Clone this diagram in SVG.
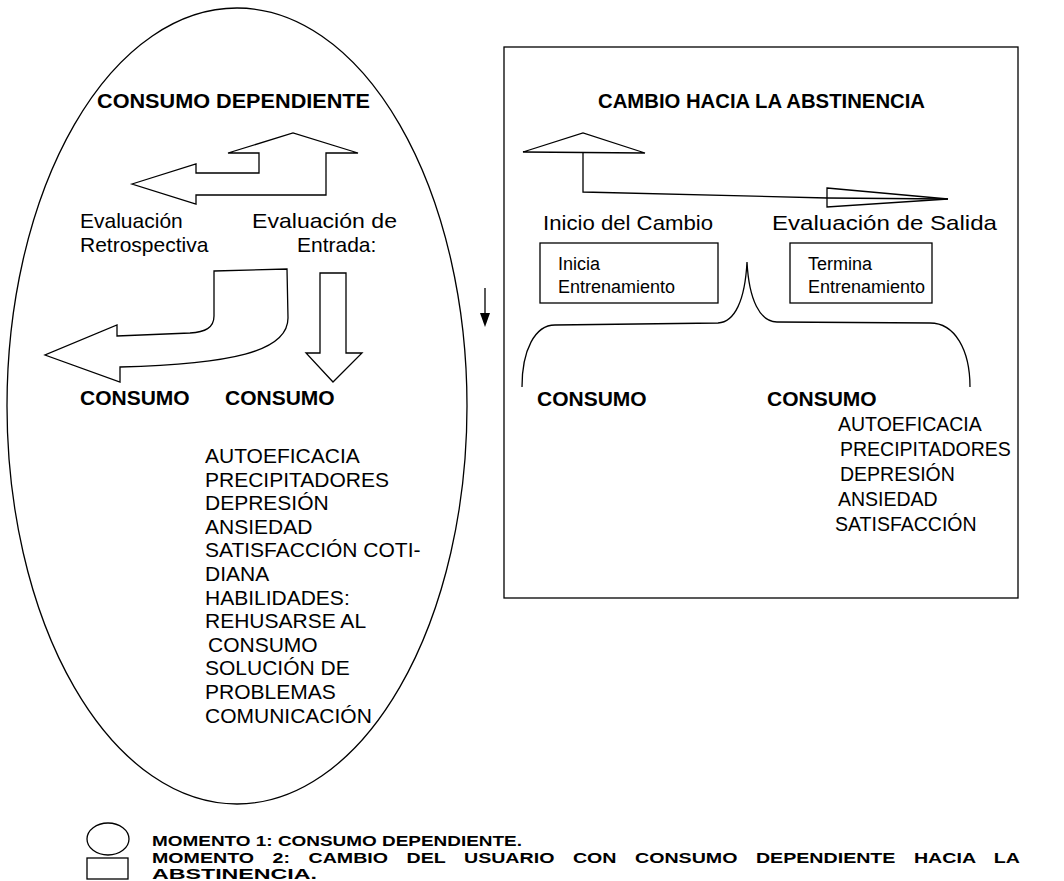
<svg xmlns="http://www.w3.org/2000/svg" width="1064" height="881" viewBox="0 0 1064 881">
<style>
.s{fill:none;stroke:#000;stroke-width:1.3}
.w{fill:#fff;stroke:#000;stroke-width:1.3;stroke-linejoin:miter}
text{font-family:"Liberation Sans",Arial,sans-serif;fill:#000}
.b{font-weight:bold;font-size:21px}
.r{font-size:21px}
.rr{font-size:19.5px}
.sm{font-size:18px}
.lg{font-weight:bold;font-size:15px}
</style>
<rect width="1064" height="881" fill="#fff"/>

<g id="momento1">
<ellipse class="s" cx="237" cy="406" rx="230" ry="398"/>
<text class="b" x="97" y="108" textLength="273" lengthAdjust="spacingAndGlyphs">CONSUMO DEPENDIENTE</text>
<polygon class="w" points="132,184 196,164 196,173 259,173 259,153 228,153 293,133 358,153 326,153 326,195 196,195 196,204"/>
<text class="r" x="80" y="228">Evaluación</text>
<text class="r" x="80" y="252">Retrospectiva</text>
<text class="r" x="252" y="228" textLength="145" lengthAdjust="spacingAndGlyphs">Evaluación de</text>
<text class="r" x="297" y="252">Entrada:</text>
<path class="w" d="M214,271 L287,269 L288,318 C288,352 230,364 120,367 L120,382 L45,355 L117,325 L117,336 L190,333 C205,332 214,328 214,316 Z"/>
<polygon class="w" points="320,273 346,273 346,353 362,353 333,382 306,353 320,353"/>
<text class="b" x="80" y="405">CONSUMO</text>
<text class="b" x="225" y="405">CONSUMO</text>
<text class="r" x="205" y="463">AUTOEFICACIA</text>
<text class="r" x="205" y="486.6">PRECIPITADORES</text>
<text class="r" x="205" y="510.2">DEPRESIÓN</text>
<text class="r" x="205" y="533.8">ANSIEDAD</text>
<text class="r" x="205" y="557.4">SATISFACCIÓN COTI-</text>
<text class="r" x="205" y="581">DIANA</text>
<text class="r" x="205" y="604.6">HABILIDADES:</text>
<text class="r" x="205" y="628.2">REHUSARSE AL</text>
<text class="r" x="208" y="651.8">CONSUMO</text>
<text class="r" x="205" y="675.4">SOLUCIÓN DE</text>
<text class="r" x="205" y="699">PROBLEMAS</text>
<text class="r" x="205" y="722.6">COMUNICACIÓN</text>
</g>

<g id="connectors">
<line class="s" x1="485" y1="288" x2="485" y2="315"/>
<polygon points="480,313 490,313 485,327" fill="#000"/>
</g>

<g id="momento2">
<rect class="s" x="504" y="47" width="514" height="551"/>
<text class="b" x="598" y="108" textLength="327" lengthAdjust="spacingAndGlyphs" style="font-size:20px">CAMBIO HACIA LA ABSTINENCIA</text>
<polygon class="w" points="523,152 583,133 645,153"/>
<polyline class="s" points="583,153 583,192 827,198"/>
<polygon class="w" points="827,188 948,199 827,207"/>
<line class="s" x1="827" y1="198" x2="948" y2="199"/>
<text class="r" x="543" y="230" textLength="170" lengthAdjust="spacingAndGlyphs">Inicio del Cambio</text>
<text class="r" x="772" y="230" textLength="225" lengthAdjust="spacingAndGlyphs">Evaluación de Salida</text>
<rect class="s" x="540" y="243" width="178" height="60"/>
<text class="sm" x="558" y="270">Inicia</text>
<text class="sm" x="558" y="293">Entrenamiento</text>
<rect class="s" x="790" y="243" width="142" height="60"/>
<text class="sm" x="808" y="270">Termina</text>
<text class="sm" x="808" y="293">Entrenamiento</text>
<path class="s" d="M522,387 C522,350 535,325 555,325 L718,323 C735,322 745,300 747,262 C749,300 760,322 777,322 L930,323 C955,323 970,350 970,387"/>
<text class="b" x="537" y="406">CONSUMO</text>
<text class="b" x="767" y="406">CONSUMO</text>
<text class="rr" x="838" y="431">AUTOEFICACIA</text>
<text class="rr" x="840" y="456">PRECIPITADORES</text>
<text class="rr" x="840" y="481">DEPRESIÓN</text>
<text class="rr" x="838" y="506">ANSIEDAD</text>
<text class="rr" x="835" y="531">SATISFACCIÓN</text>
</g>

<g id="legend">
<ellipse class="s" cx="108" cy="839" rx="21" ry="16"/>
<rect class="s" x="87" y="858" width="41" height="21"/>
<text class="lg" x="152" y="846" textLength="370" lengthAdjust="spacingAndGlyphs">MOMENTO 1: CONSUMO DEPENDIENTE.</text>
<text class="lg" x="152" y="863" textLength="868" lengthAdjust="spacingAndGlyphs" word-spacing="10">MOMENTO  2: CAMBIO DEL USUARIO CON CONSUMO DEPENDIENTE HACIA LA</text>
<text class="lg" x="152" y="879" textLength="165" lengthAdjust="spacingAndGlyphs">ABSTINENCIA.</text>
</g>
</svg>
